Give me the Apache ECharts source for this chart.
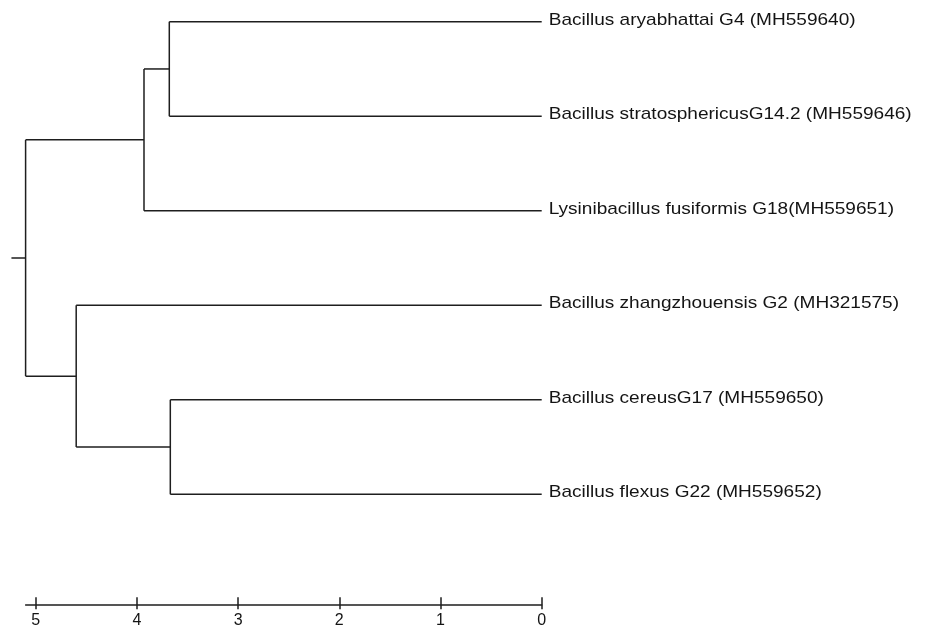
<!DOCTYPE html>
<html>
<head>
<meta charset="utf-8">
<script src="https://cdn.jsdelivr.net/npm/echarts@6/dist/echarts.min.js"></script>
<style>html,body{margin:0;padding:0;background:#fff;}#c{width:927px;height:627px;}</style>
</head>
<body>
<div id="c"></div>
<script>
// Leaves (top to bottom)
const leafNames = [
  'Bacillus aryabhattai G4 (MH559640)',
  'Bacillus stratosphericusG14.2 (MH559646)',
  'Lysinibacillus fusiformis G18(MH559651)',
  'Bacillus zhangzhouensis G2 (MH321575)',
  'Bacillus cereusG17 (MH559650)',
  'Bacillus flexus G22 (MH559652)'
];
// Internal nodes: children and height (distance)
const nodeNames = ['n1', 'n2', 'n3', 'n4', 'root'];
const nodeChildren = [['L0', 'L1'], ['n1', 'L2'], ['L4', 'L5'], ['L3', 'n3'], ['n2', 'n4']];
const nodeHeights = [3.68, 3.93, 3.67, 4.60, 5.10];
const rootStubHeight = 5.24;
// Axis ticks
const tickValues = [0, 1, 2, 3, 4, 5];
const axisMax = 5.1;

// Build tree geometry in data coordinates
const pos = {};
leafNames.forEach((n, i) => { pos['L' + i] = { x: 0, y: i }; });
const segments = [];
nodeNames.forEach((nm, k) => {
  const h = nodeHeights[k];
  const [a, b] = nodeChildren[k].map(c => pos[c]);
  segments.push([h, a.y, h, b.y]);
  segments.push([a.x, a.y, h, a.y]);
  segments.push([b.x, b.y, h, b.y]);
  pos[nm] = { x: h, y: (a.y + b.y) / 2 };
});
segments.push([pos.root.x, pos.root.y, rootStubHeight, pos.root.y]);

const lineColor = '#1e1e1e';
const textColor = '#141414';
const fontFam = 'Liberation Sans, Arial, sans-serif';
const chart = echarts.init(document.getElementById('c'));
const gridBox = { left: 25.6, right: 385.3, top: 21.7, bottom: 132.7, outerBoundsMode: 'none', containLabel: false };
const axisCommon = {
  type: 'value', min: 0, max: axisMax, inverse: true, position: 'bottom',
  offset: 110, splitLine: { show: false }
};
chart.setOption({
  animation: false,
  backgroundColor: '#fff',
  grid: [Object.assign({}, gridBox), Object.assign({}, gridBox)],
  xAxis: [
    Object.assign({}, axisCommon, {
      gridIndex: 0,
      axisLine: { show: true, onZero: false, lineStyle: { color: lineColor, width: 1.5 } },
      axisTick: { show: true, inside: false, length: 5, customValues: tickValues, lineStyle: { color: lineColor, width: 1.5 } },
      axisLabel: { show: true, customValues: tickValues, margin: 8, fontSize: 16, color: textColor, fontFamily: fontFam }
    }),
    Object.assign({}, axisCommon, {
      gridIndex: 1,
      axisLine: { show: false, onZero: false },
      axisTick: { show: true, inside: true, length: 7, customValues: tickValues, lineStyle: { color: lineColor, width: 1.5 } },
      axisLabel: { show: false }
    })
  ],
  yAxis: [
    { gridIndex: 0, type: 'value', min: 0, max: leafNames.length - 1, inverse: true, show: false, splitLine: { show: false } },
    { gridIndex: 1, type: 'value', min: 0, max: leafNames.length - 1, inverse: true, show: false, splitLine: { show: false } }
  ],
  series: [
    {
      type: 'custom',
      xAxisIndex: 0, yAxisIndex: 0,
      clip: false,
      data: segments,
      renderItem: function (params, api) {
        const p1 = api.coord([api.value(0), api.value(1)]);
        const p2 = api.coord([api.value(2), api.value(3)]);
        return {
          type: 'line',
          shape: { x1: p1[0], y1: p1[1], x2: p2[0], y2: p2[1] },
          style: { stroke: lineColor, lineWidth: 1.5 }
        };
      }
    },
    {
      type: 'custom',
      xAxisIndex: 0, yAxisIndex: 0,
      clip: false,
      data: leafNames.map((n, i) => [0, i]),
      renderItem: function (params, api) {
        const p = api.coord([api.value(0), api.value(1)]);
        return {
          type: 'text',
          x: p[0] + 7,
          y: p[1] - 1.5,
          scaleX: 1.12,
          style: {
            text: leafNames[params.dataIndex],
            fontSize: 17, fontFamily: fontFam, fill: textColor,
            align: 'left', verticalAlign: 'middle'
          }
        };
      }
    }
  ]
});
</script>
</body>
</html>
